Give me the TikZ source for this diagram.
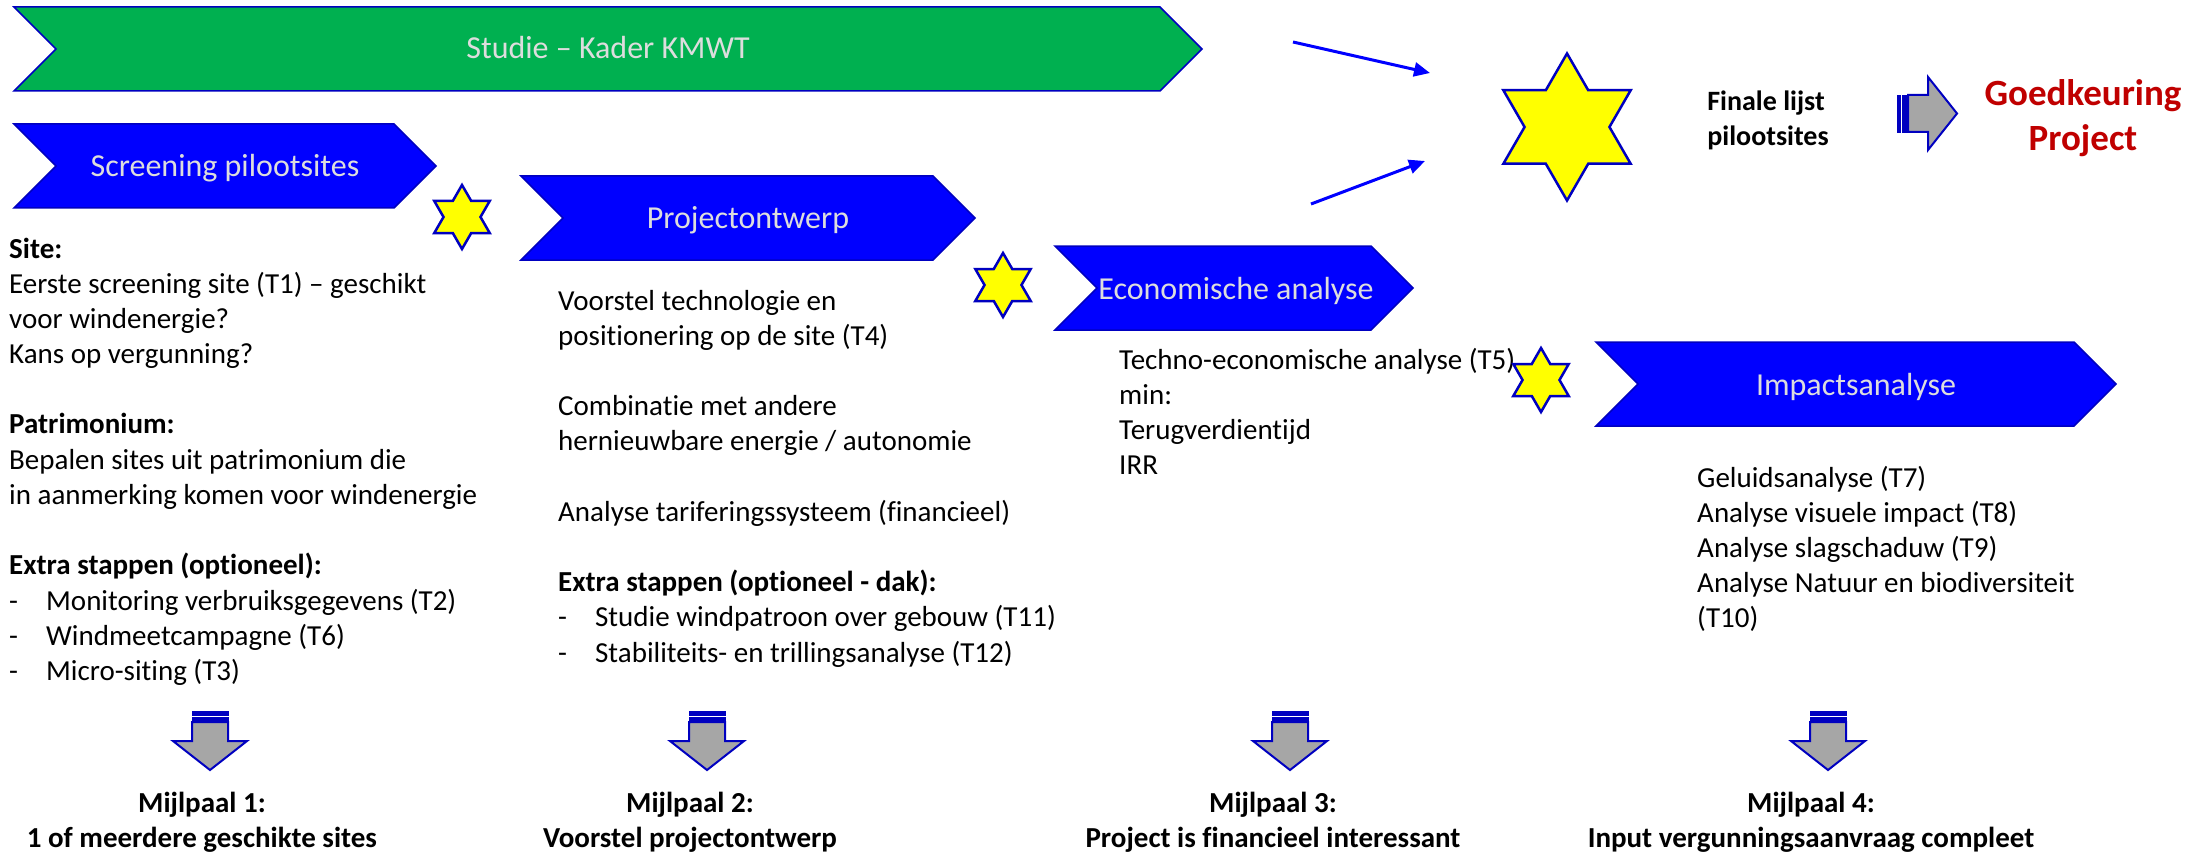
\documentclass[tikz,border=0pt]{standalone}
\usepackage{fontspec}
\setmainfont{Carlito}[Ligatures=NoCommon]
\usetikzlibrary{arrows.meta}
\definecolor{kgreen}{HTML}{00B050}
\definecolor{kblue}{HTML}{0000FF}
\definecolor{kedge}{HTML}{0000C0}
\definecolor{kstar}{HTML}{FFFF00}
\definecolor{kgrey}{HTML}{A6A6A6}
\definecolor{kred}{HTML}{C00000}
\definecolor{klabel}{HTML}{DDDDDD}
\newcommand\kdash{\makebox[37pt][l]{-}}
\newcommand\hexstar[3]{%
  \pgfmathsetmacro\hsr{#3/sqrt(3)}%
  \draw[starsty, shift={(#1,#2)}] (90:#3) -- (60:\hsr) -- (30:#3) -- (0:\hsr) -- (-30:#3) -- (-60:\hsr)
     -- (-90:#3) -- (-120:\hsr) -- (-150:#3) -- (180:\hsr) -- (150:#3) -- (120:\hsr) -- cycle;}
\newcommand\mydownarrow[1]{%
  \draw[stripe] ({#1-18},711) rectangle ({#1+18},715.5);
  \draw[stripe] ({#1-18},717.5) rectangle ({#1+18},720.5);
  \draw[blockarrow] ({#1-18},722) -- ({#1+18},722) -- ({#1+18},741) -- ({#1+37},741) -- (#1,770)
     -- ({#1-37},741) -- ({#1-18},741) -- cycle;}
\tikzset{
 chev/.style={fill=kblue, draw=kedge, line width=1.5pt},
 chevg/.style={fill=kgreen, draw=kedge, line width=1.5pt},
 chevlabel/.style={anchor=base, inner sep=0pt, text=klabel, font=\fontsize{32}{38}\selectfont},
 starsty/.style={fill=kstar, draw=kedge, line width=2.5pt, line join=miter},
 blockarrow/.style={fill=kgrey, draw=kedge, line width=2pt},
 stripe/.style={fill=kedge, draw=kedge, line width=0.8pt},
 body/.style={anchor=base west, inner sep=0pt, font=\fontsize{29}{35.2}\selectfont},
 mile/.style={anchor=base, inner sep=0pt, font=\fontsize{29}{35}\selectfont\bfseries},
 thinarrow/.style={draw=kblue, line width=3pt, -{Triangle[length=16pt,width=14pt]}},
}
\begin{document}
\begin{tikzpicture}[x=1pt, y=-1pt]
\fill[white] (0,0) rectangle (2205,853);
\useasboundingbox (0,0) rectangle (2205,853);

% chevrons
\draw[chevg] (14,7) -- (1160,7) -- (1202,49) -- (1160,91) -- (14,91) -- (56,49) -- cycle;
\node[chevlabel] (studie) at (608,59) {Studie – Kader KMWT};
\draw[chev] (14,124) -- (394,124) -- (436,166) -- (394,208) -- (14,208) -- (56,166) -- cycle;
\node[chevlabel] (screening) at (225,177) {Screening pilootsites};
\draw[chev] (521,176) -- (933,176) -- (975,218) -- (933,260) -- (521,260) -- (563,218) -- cycle;
\node[chevlabel] (ontwerp) at (748,229) {Projectontwerp};
\draw[chev] (1055,246) -- (1371,246) -- (1413,288) -- (1371,330) -- (1055,330) -- (1097,288) -- cycle;
\node[chevlabel] (econ) at (1236,299) {Economische analyse};
\draw[chev] (1596,342) -- (2074,342) -- (2116,384) -- (2074,426) -- (1596,426) -- (1638,384) -- cycle;
\node[chevlabel] (impact) at (1856,395) {Impactsanalyse};

% body text
\node[body] (col1) at (9,258) {\begin{tabular}[t]{@{}l@{}}
\textbf{Site:}\\
Eerste screening site (T1) – geschikt\\
voor windenergie?\\
Kans op vergunning?\\
\\
\textbf{Patrimonium:}\\
Bepalen sites uit patrimonium die\\
in aanmerking komen voor windenergie\\
\\
\textbf{Extra stappen (optioneel):}\\
\kdash Monitoring verbruiksgegevens (T2)\\
\kdash Windmeetcampagne (T6)\\
\kdash Micro-siting (T3)
\end{tabular}};
\node[body] (col2) at (558,310) {\begin{tabular}[t]{@{}l@{}}
Voorstel technologie en\\
positionering op de site (T4)\\
\\
Combinatie met andere\\
hernieuwbare energie / autonomie\\
\\
Analyse tariferingssysteem (financieel)\\
\\
\textbf{Extra stappen (optioneel - dak):}\\
\kdash Studie windpatroon over gebouw (T11)\\
\kdash Stabiliteits- en trillingsanalyse (T12)
\end{tabular}};
\node[body] (col3) at (1119,369) {\begin{tabular}[t]{@{}l@{}}
Techno-economische analyse (T5)\\
min:\\
Terugverdientijd\\
IRR
\end{tabular}};
\node[body] (col4) at (1697,487) {\begin{tabular}[t]{@{}l@{}}
Geluidsanalyse (T7)\\
Analyse visuele impact (T8)\\
Analyse slagschaduw (T9)\\
Analyse Natuur en biodiversiteit\\
(T10)
\end{tabular}};

% stars
\hexstar{462}{217}{32}
\hexstar{1003}{285}{32}
\hexstar{1541}{380}{32}
\hexstar{1567}{127}{73.5}

% thin arrows to big star
\coordinate (a1s) at (1293,42);
\coordinate (a1e) at (1430,73);
\coordinate (a2s) at (1311,204);
\coordinate (a2e) at (1425,161);
\draw[thinarrow] (a1s) -- (a1e);
\draw[thinarrow] (a2s) -- (a2e);

% final list
\node[anchor=base, inner sep=0pt, font=\fontsize{28}{35}\selectfont\bfseries] (finale) at (1768,111)
  {\begin{tabular}[t]{@{}l@{}}Finale lijst\\pilootsites\end{tabular}};
\draw[stripe] (1897,95) rectangle (1900.5,132);
\draw[stripe] (1902.5,95) rectangle (1906,132);
\draw[blockarrow] (1908,95) -- (1928,95) -- (1928,77) -- (1957,113.5) -- (1928,150) -- (1928,132) -- (1908,132) -- cycle;
\node[anchor=base, inner sep=0pt, text=kred, font=\fontsize{37}{45}\selectfont\bfseries] (goed) at (2083,106)
  {\begin{tabular}[t]{@{}c@{}}Goedkeuring\\Project\end{tabular}};

% milestones
\mydownarrow{210}
\mydownarrow{707}
\mydownarrow{1290}
\mydownarrow{1828}
\node[mile] (m1) at (202,812) {\begin{tabular}[t]{@{}c@{}}Mijlpaal 1:\\1 of meerdere geschikte sites\end{tabular}};
\node[mile] (m2) at (690,812) {\begin{tabular}[t]{@{}c@{}}Mijlpaal 2:\\Voorstel projectontwerp\end{tabular}};
\node[mile] (m3) at (1273,812) {\begin{tabular}[t]{@{}c@{}}Mijlpaal 3:\\Project is financieel interessant\end{tabular}};
\node[mile] (m4) at (1811,812) {\begin{tabular}[t]{@{}c@{}}Mijlpaal 4:\\Input vergunningsaanvraag compleet\end{tabular}};
\end{tikzpicture}
\end{document}
